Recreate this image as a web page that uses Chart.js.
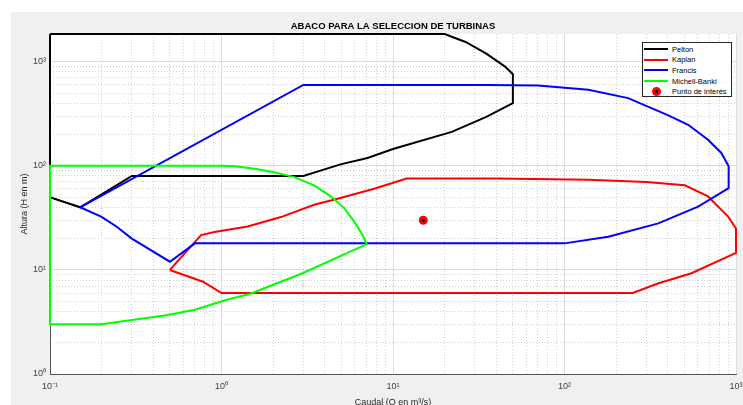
<!DOCTYPE html>
<html>
<head>
<meta charset="utf-8">
<title>Abaco turbinas</title>
<script src="https://cdn.jsdelivr.net/npm/chart.js@4.4.1/dist/chart.umd.min.js"></script>
<style>
  html, body { margin: 0; padding: 0; background: #fff; overflow: hidden; }
  #figure { position: absolute; left: 11px; top: 12px; width: 732px; height: 400px; background: #f0f0f0; }
  #chart { display: block; }
  #legend {
    position: absolute; left: 642px; top: 42px; width: 90px; height: 55px;
    box-sizing: border-box; background: #fff; border: 1px solid #262626;
    padding-top: 1px; font-family: Arial, "Liberation Sans", sans-serif; font-size: 7.5px; color: #000;
  }
  .row { height: 10.6px; display: flex; align-items: center; }
  .swatch { width: 24px; margin-left: 1px; margin-right: 4px; height: 2px; }
  .dot { width: 24px; margin-left: 1px; margin-right: 4px; height: 9px; position: relative; }
  .dot span {
    position: absolute; left: 8px; top: 0; width: 3px; height: 3px; border-radius: 50%;
    background: #000; border: 3px solid #ff0000;
  }
</style>
</head>
<body>
<div id="figure"><canvas id="chart" width="732" height="400"></canvas></div>
<div id="legend"></div>
<script>
// ---- data (Q in m3/s, H in m) ----
const peltonQ = [0.1, 20, 26.5, 35, 45, 50, 50, 35, 22, 10, 7.1, 5, 3, 0.3, 0.15, 0.1, 0.1];
const peltonH = [1850, 1850, 1550, 1200, 900, 760, 400, 296, 212, 145, 119, 104, 80, 80, 40, 50, 1850];

const kaplanQ = [0.5, 0.76, 0.91, 1.42, 2.22, 3.47, 4.75, 7.76, 12, 40, 138, 300, 503, 687, 720, 900, 1000, 1000, 550, 350, 250, 1, 0.78, 0.5];
const kaplanH = [10, 21.6, 23.1, 26.2, 32.2, 42.3, 48.3, 60.3, 75.5, 75.5, 73.5, 70, 65, 51, 47, 32.5, 25, 14.6, 9.3, 7.4, 6, 6, 7.7, 10];

const francisQ = [0.15, 3, 36, 70, 138, 235, 403, 526, 687, 821, 906, 906, 601, 352, 180, 100, 0.7, 0.5, 0.3, 0.245, 0.2, 0.15];
const francisH = [40, 600, 600, 593, 538, 448, 306, 248, 178, 133, 99, 61, 40.5, 28, 20.8, 18, 18, 12, 20, 26, 32.4, 40];

const banckiQ = [0.1, 0.1, 1, 1.19, 1.56, 2.03, 2.66, 3.47, 4.34, 5.19, 5.93, 6.63, 7.03, 2.97, 1.46, 1.06, 0.7, 0.476, 0.3, 0.2, 0.1];
const banckiH = [3, 100, 100, 99, 94, 87, 78, 65, 51, 39.3, 29.3, 21.8, 17.7, 9.3, 5.87, 5.14, 4.15, 3.67, 3.3, 3, 3];

const puntoQ = [15];
const puntoH = [30];

const seriesNames = ['Pelton', 'Kaplan', 'Francis', 'Michell-Banki', 'Punto de interés'];
const seriesColors = ['#000000', '#ff0000', '#0000ff', '#00ff00', '#ff0000'];

const xMajorTicks = [0.1, 1, 10, 100, 1000];
const yMajorTicks = [1, 10, 100, 1000];
const xRange = [0.1, 1000];
const yRange = [1, 1850];

// minor grid positions (2..9 times each decade)
function minorTicks(min, max) {
  const out = [];
  for (let d = Math.floor(Math.log10(min)); d <= Math.ceil(Math.log10(max)); d++) {
    for (let m = 2; m <= 9; m++) {
      const v = m * Math.pow(10, d);
      if (v > min && v < max) out.push(v);
    }
  }
  return out;
}

const sup = { '-': '⁻', '0': '⁰', '1': '¹', '2': '²', '3': '³', '4': '⁴', '5': '⁵', '6': '⁶', '7': '⁷', '8': '⁸', '9': '⁹' };
function powLabel(v) {
  const e = String(Math.round(Math.log10(v)));
  return '10' + e.split('').map(c => sup[c]).join('');
}

function toPoints(q, h) {
  return q.map((v, i) => ({ x: v, y: h[i] }));
}

const fontFamily = 'Arial, "Liberation Sans", sans-serif';
Chart.defaults.font.family = fontFamily;

const lineSets = [
  [peltonQ, peltonH],
  [kaplanQ, kaplanH],
  [francisQ, francisH],
  [banckiQ, banckiH]
];

const datasets = lineSets.map((s, i) => ({
  label: seriesNames[i],
  data: toPoints(s[0], s[1]),
  showLine: true,
  borderColor: seriesColors[i],
  backgroundColor: seriesColors[i],
  borderWidth: 2,
  pointRadius: 0,
  tension: 0,
  clip: false,
  order: 5 - i
}));
datasets.push({
  label: seriesNames[4],
  data: toPoints(puntoQ, puntoH),
  showLine: false,
  pointRadius: 3,
  pointBorderWidth: 3,
  pointBorderColor: seriesColors[4],
  pointBackgroundColor: '#000',
  clip: false,
  order: 0
});

// white plot area over the grey figure
const plotBackground = {
  id: 'plotBackground',
  beforeDraw(chart) {
    const { ctx, chartArea: a } = chart;
    ctx.save();
    ctx.fillStyle = '#ffffff';
    ctx.fillRect(a.left, a.top, a.right - a.left, a.bottom - a.top);
    ctx.restore();
  }
};

const ctx = document.getElementById('chart').getContext('2d');
const chart = new Chart(ctx, {
  type: 'scatter',
  data: { datasets: datasets },
  options: {
    responsive: false,
    animation: false,
    events: [],
    layout: { padding: { left: 0, right: 5, top: 0, bottom: 0 } },
    plugins: {
      legend: { display: false },
      tooltip: { enabled: false },
      title: {
        display: true,
        text: 'ABACO PARA LA SELECCION DE TURBINAS',
        fullSize: false,
        color: '#000',
        font: { size: 9.5, weight: 'bold' },
        padding: { top: 9, bottom: 1.6 }
      }
    },
    scales: {
      x: {
        type: 'logarithmic',
        position: 'bottom',
        min: xRange[0],
        max: xRange[1],
        afterBuildTicks: s => { s.ticks = xMajorTicks.map(v => ({ value: v })); },
        afterFit: s => { s.height = 38; s.paddingLeft = 0; s.paddingRight = 0; },
        ticks: {
          autoSkip: false, maxRotation: 0, padding: 7,
          color: '#404040', font: { size: 9 },
          callback: v => powLabel(v)
        },
        grid: {
          drawTicks: false,
          color: c => (c.tick && c.tick.value === xRange[0]) ? 'rgba(0,0,0,0)' : '#dcdcdc'
        },
        border: { display: true, color: '#555555', width: 1 },
        title: {
          display: true, text: 'Caudal (Q en m³/s)', color: '#262626',
          font: { size: 9 }, padding: { top: 0, bottom: 4 }
        }
      },
      y: {
        type: 'logarithmic',
        position: 'left',
        min: yRange[0],
        max: yRange[1],
        afterBuildTicks: s => { s.ticks = yMajorTicks.map(v => ({ value: v })); },
        afterFit: s => { s.width = 39; s.paddingTop = 0; s.paddingBottom = 0; },
        ticks: {
          autoSkip: false, padding: 4,
          color: '#404040', font: { size: 9 },
          callback: v => powLabel(v)
        },
        grid: {
          drawTicks: false,
          color: c => (c.tick && c.tick.value === yRange[0]) ? 'rgba(0,0,0,0)' : '#dcdcdc'
        },
        border: { display: true, color: '#555555', width: 1 },
        title: {
          display: true, text: 'Altura (H en m)', color: '#262626',
          font: { size: 9 }, padding: { top: 8, bottom: 0 }
        }
      },
      xMinor: {
        type: 'logarithmic',
        position: 'bottom',
        min: xRange[0],
        max: xRange[1],
        afterBuildTicks: s => { s.ticks = minorTicks(xRange[0], xRange[1]).map(v => ({ value: v })); },
        afterFit: s => { s.height = 0; s.paddingLeft = 0; s.paddingRight = 0; },
        ticks: { display: false },
        grid: { drawTicks: false, color: '#cfcfcf', lineWidth: 1 },
        border: { display: false, dash: [1, 2] }
      },
      yMinor: {
        type: 'logarithmic',
        position: 'left',
        min: yRange[0],
        max: yRange[1],
        afterBuildTicks: s => { s.ticks = minorTicks(yRange[0], yRange[1]).map(v => ({ value: v })); },
        afterFit: s => { s.width = 0; s.paddingTop = 0; s.paddingBottom = 0; },
        ticks: { display: false },
        grid: { drawTicks: false, color: '#cfcfcf', lineWidth: 1 },
        border: { display: false, dash: [1, 2] }
      }
    }
  },
  plugins: [plotBackground]
});

// legend box inside the plot, top right
const legendEl = document.getElementById('legend');
seriesNames.forEach((name, i) => {
  const row = document.createElement('div');
  row.className = 'row';
  const mark = document.createElement('div');
  if (i < 4) {
    mark.className = 'swatch';
    mark.style.background = seriesColors[i];
  } else {
    mark.className = 'dot';
    mark.appendChild(document.createElement('span'));
  }
  const txt = document.createElement('span');
  txt.textContent = name;
  row.appendChild(mark);
  row.appendChild(txt);
  legendEl.appendChild(row);
});
</script>
</body>
</html>
